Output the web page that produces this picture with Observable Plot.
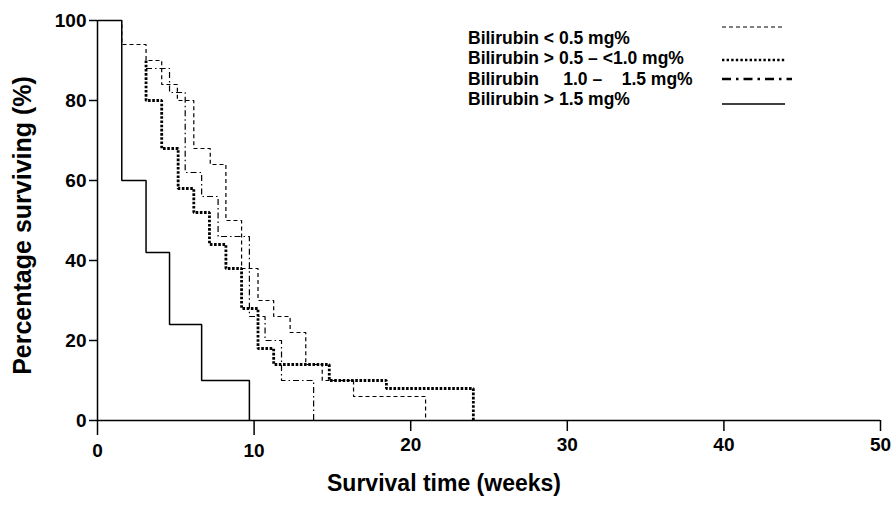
<!DOCTYPE html>
<html>
<head>
<meta charset="utf-8">
<script src="https://cdn.jsdelivr.net/npm/d3@7"></script>
<script src="https://cdn.jsdelivr.net/npm/@observablehq/plot@0.6"></script>
<style>
  body { margin: 0; background: #fff; }
  #wrap { position: relative; width: 896px; height: 517px; font-family: "Liberation Sans", Arial, sans-serif; color: #000; }
  #legend { position: absolute; left: 468px; top: 28px; font-weight: bold; font-size: 17.5px; line-height: 20.3px; white-space: pre; }
  #legendKeys { position: absolute; left: 718px; top: 15px; }
</style>
</head>
<body>
<div id="wrap"></div>
<script>
// ---- data ----
const xTicks = [0, 10, 20, 30, 40, 50];
const yTicks = [0, 20, 40, 60, 80, 100];
const xTitle = "Survival time (weeks)";
const yTitle = "Percentage surviving (%)";
const legendLabels = [
  "Bilirubin < 0.5 mg%",
  "Bilirubin > 0.5 – <1.0 mg%",
  "Bilirubin     1.0 –    1.5 mg%",
  "Bilirubin > 1.5 mg%"
];

// Bilirubin < 0.5 mg% (dashed)
const lt05Weeks = [0, 1.55, 3.1, 4.1, 5.1, 6.15, 7.2, 8.2, 9.2, 10.25, 11.25, 12.3, 13.3, 14.35, 16.35, 20.95];
const lt05Surv  = [100, 94, 90, 84, 80, 68, 64, 50, 38, 30, 26, 22, 14, 10, 6, 0];
// Bilirubin > 0.5 – <1.0 mg% (dotted)
const mid05Weeks = [3.1, 3.1, 4.1, 5.15, 6.15, 7.15, 8.2, 9.2, 10.25, 11.25, 14.8, 18.45, 24.0];
const mid05Surv  = [90, 80, 68, 58, 52, 44, 38, 28, 18, 14, 10, 8, 0];
// Bilirubin 1.0 – 1.5 mg% (dash-dot)
const mid10Weeks = [3.1, 4.6, 5.6, 6.65, 7.7, 9.7, 10.7, 11.75, 13.8];
const mid10Surv  = [88, 82, 62, 56, 46, 26, 20, 10, 0];
// Bilirubin > 1.5 mg% (solid)
const gt15Weeks = [0, 1.55, 3.1, 4.6, 6.65, 9.7];
const gt15Surv  = [100, 60, 42, 24, 10, 0];

// ---- styles ----
const seriesStyles = [
  {dash: "4,3", width: 1.2, keyDash: "4,3", keyWidth: 1.2},
  {dash: "2.6,1.6", width: 2.8, keyDash: "2.4,2.2", keyWidth: 2.6},
  {dash: "6,3,1.5,3", width: 1.2, keyDash: "9,5,2.5,5", keyWidth: 2.4},
  {dash: null, width: 1.5, keyDash: null, keyWidth: 1.3}
];
const keyY = [12, 45, 64, 89];

const toRows = (w, s) => w.map((t, i) => ({t, s: s[i]}));
const series = [
  toRows(lt05Weeks, lt05Surv),
  toRows(mid05Weeks, mid05Surv),
  toRows(mid10Weeks, mid10Surv),
  toRows(gt15Weeks, gt15Surv)
];
const drawOrder = [1, 0, 2, 3];

const lineMarks = drawOrder.map(i => Plot.line(series[i], {
  x: "t", y: "s", curve: "step-after", stroke: "#000",
  strokeWidth: seriesStyles[i].width,
  strokeDasharray: seriesStyles[i].dash || undefined,
  strokeLinecap: "butt", strokeLinejoin: "miter"
}));

const chart = Plot.plot({
  width: 896, height: 517,
  marginLeft: 97, marginRight: 16, marginTop: 20, marginBottom: 97,
  style: {fontFamily: "'Liberation Sans', Arial, sans-serif", fontWeight: "bold", color: "#000", background: "#fff", overflow: "visible"},
  x: {domain: [0, 50]},
  y: {domain: [0, 100]},
  marks: [
    Plot.axisY(yTicks, {tickSize: 8, tickPadding: 3, fontSize: 19, label: null, strokeWidth: 1.5}),
    Plot.axisX(xTicks.filter(d => d >= 20), {tickSize: 11, tickPadding: 6, fontSize: 19, label: null, strokeWidth: 1.5}),
    Plot.axisX(xTicks.filter(d => d < 20), {tickSize: 15, tickPadding: 8, fontSize: 19, label: null, strokeWidth: 1.5}),
    Plot.ruleX([0], {strokeWidth: 1.5}),
    Plot.ruleY([0], {strokeWidth: 1.5}),
    ...lineMarks,
    Plot.text([xTitle], {frameAnchor: "bottom", textAnchor: "middle", lineAnchor: "middle", dx: -45, dy: 63, fontSize: 23, fontWeight: "bold"}),
    Plot.text([yTitle], {frameAnchor: "left", textAnchor: "middle", lineAnchor: "middle", rotate: -90, dx: -75, dy: 5, fontSize: 25, fontWeight: "bold"})
  ]
});

const wrap = document.getElementById("wrap");
wrap.appendChild(chart);

// legend text
const legend = document.createElement("div");
legend.id = "legend";
legend.textContent = legendLabels.join("\n");
wrap.appendChild(legend);

// legend keys
const keys = d3.create("svg").attr("id", "legendKeys").attr("width", 80).attr("height", 100);
seriesStyles.forEach((st, i) => {
  keys.append("line")
    .attr("x1", 4).attr("x2", i === 2 ? 74 : 67)
    .attr("y1", keyY[i]).attr("y2", keyY[i])
    .attr("stroke", "#000")
    .attr("stroke-width", st.keyWidth)
    .attr("stroke-dasharray", st.keyDash);
});
wrap.appendChild(keys.node());
</script>
</body>
</html>
